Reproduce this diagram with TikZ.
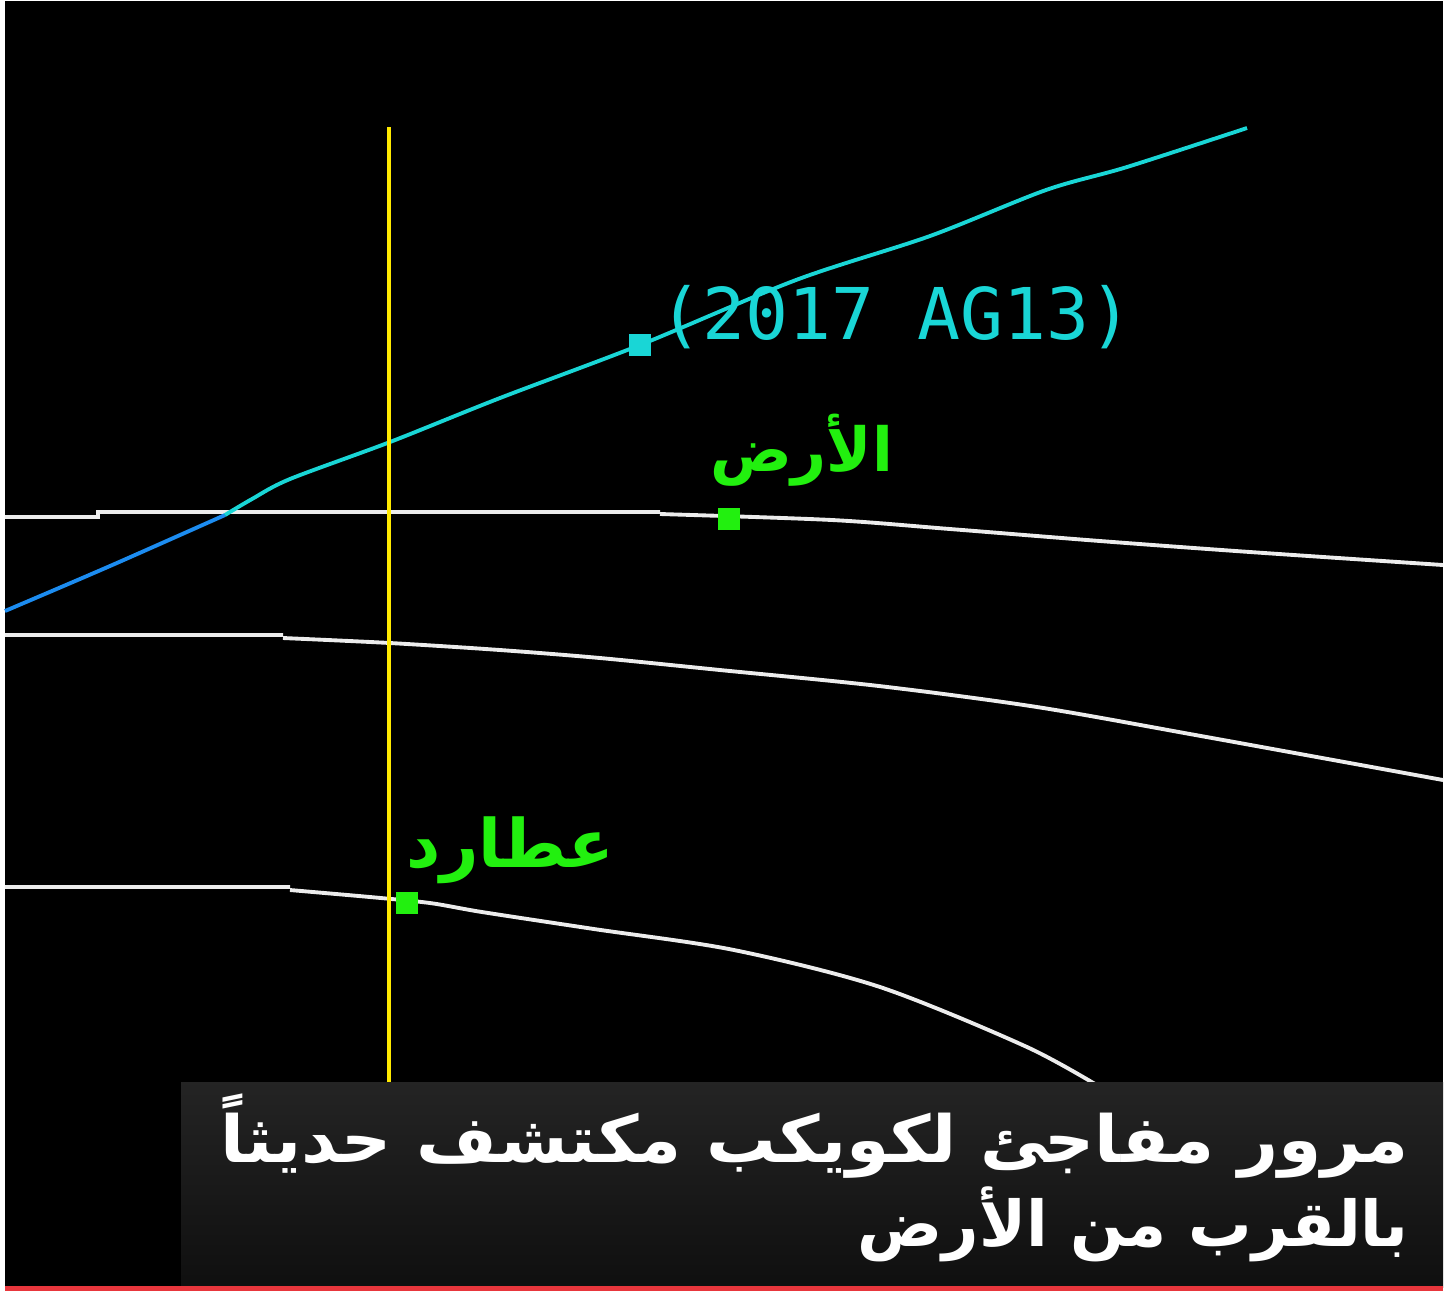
\documentclass[tikz,border=0pt]{standalone}
\usepackage{fontspec}
\TeXXeTstate=1
\newfontfamily\arabicfont[Script=Arabic]{DejaVu Sans}
\newfontfamily\radarfont{DejaVu Sans Mono}
\definecolor{trackcyan}{HTML}{19D6D6}
\definecolor{trackblue}{HTML}{1C8CF0}
\definecolor{planetgreen}{HTML}{22F00F}
\definecolor{nowyellow}{HTML}{FFEA00}
\definecolor{orbitwhite}{HTML}{ECECEC}
\definecolor{captionred}{HTML}{E8363C}

\begin{document}
\begin{tikzpicture}[
  x=0.01cm, y=-0.01cm,
  orbit/.style={draw=orbitwhite, line width=1.1pt},
  track/.style={draw=trackcyan, line width=1.1pt},
  marker/.style={rectangle, inner sep=0pt, minimum size=0.22cm},
  planetlabel/.style={text=planetgreen, inner sep=0pt,
                      font=\arabicfont\bfseries\fontsize{19}{22}\selectfont},
  captionline/.style={text=white, inner sep=0pt,
                      font=\arabicfont\bfseries\fontsize{18}{20}\selectfont}
]

% page and screen
\useasboundingbox (0,0) rectangle (1455,1293);
\fill[white] (0,0) rectangle (1455,1293);
\fill[black] (5,1) rectangle (1443,1291);

% orbits
\draw[orbit] (5,517) -- (98,517) -- (98,512) -- (660,512)
  plot[smooth] coordinates {(660,514) (832,520) (950,529) (1100,541) (1250,552) (1443,565)};
\draw[orbit] (5,635) -- (283,635)
  plot[smooth] coordinates {(283,638) (390,643) (500,650) (600,658) (720,670) (879,686)
                            (1037,707) (1201,736) (1443,780)};
\draw[orbit] (5,887) -- (290,887)
  plot[smooth] coordinates {(290,890) (370,897) (430,903) (482,912) (594,929) (734,950)
                            (880,987) (1027,1047) (1105,1090)};

% asteroid track
\draw[track, draw=trackblue] plot[smooth] coordinates {(5,611) (110,566) (225,515)};
\draw[track] plot[smooth] coordinates {(225,515) (252,499) (290,479) (390,442)
  (500,398) (640,345) (796,280) (930,236) (1046,190) (1127,167) (1247,128)};

% time line
\draw[nowyellow, line width=1.4pt] (389,127) -- (389,1082);

% bodies
\node[marker, fill=trackcyan] (ag13) at (640,345) {};
\node[marker, fill=planetgreen] (earth) at (729,519) {};
\node[marker, fill=planetgreen] (mercury) at (407,903) {};

\node[text=trackcyan, inner sep=0pt, anchor=west,
      font=\radarfont\fontsize{20.3}{22}\selectfont] (ag13label)
  at ([xshift=0.07cm, yshift=0.28cm]ag13.east) {(2017 AG13)};
\node[planetlabel, anchor=south west,
      font=\arabicfont\bfseries\fontsize{17.3}{20}\selectfont] (earthlabel)
  at ([xshift=-0.08cm, yshift=0.2cm]earth.north west) {\beginR الأرض\endR};
\node[planetlabel, anchor=south west] (mercurylabel)
  at ([xshift=0.1cm, yshift=0.07cm]mercury.north west) {\beginR عطارد\endR};

% caption
\shade[top color=black!86, bottom color=black!94] (181,1082) rectangle (1443,1287);
\fill[captionred] (5,1286) rectangle (1443,1291);
\node[captionline, anchor=base east, xscale=1.07, transform shape,
      font=\arabicfont\bfseries\fontsize{18.5}{20}\selectfont] (title1) at (1409,1162)
  {\beginR مرور مفاجئ لكويكب مكتشف حديثاً\endR};
\node[captionline, anchor=base east] (title2) at (1409,1246)
  {\beginR بالقرب من الأرض\endR};

\end{tikzpicture}
\end{document}
